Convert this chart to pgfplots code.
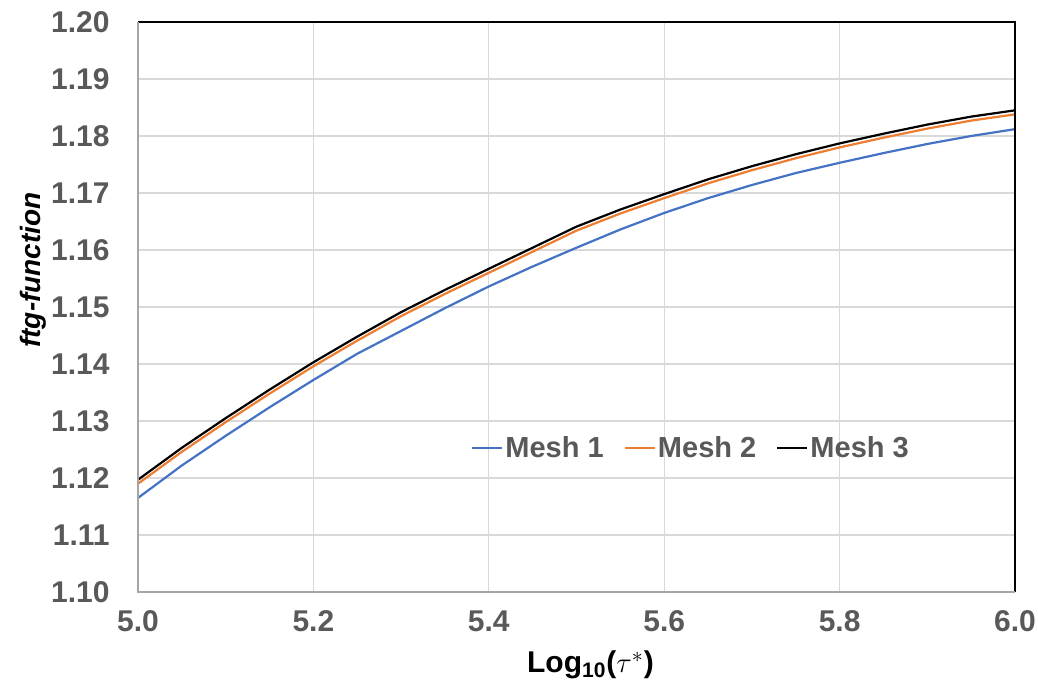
\documentclass[border=0pt]{standalone}
\usepackage{pgfplots}
\pgfplotsset{compat=1.18}
\usepackage{fontspec}
\setmainfont{Liberation Sans}

\definecolor{meshblue}{HTML}{4472C4}
\definecolor{meshorange}{HTML}{ED7D31}
\definecolor{ticktext}{HTML}{595959}
\definecolor{gridgrey}{HTML}{D9D9D9}
\definecolor{axisgrey}{HTML}{A6A6A6}

% ftg-function against log10(tau*) for three meshes
\pgfplotstableread{
x     m1      m2      m3
5.00  1.1165  1.1190  1.1197
5.05  1.1222  1.1246  1.1253
5.10  1.1274  1.1298  1.1305
5.15  1.1324  1.1348  1.1355
5.20  1.1372  1.1396  1.1403
5.25  1.1418  1.1441  1.1448
5.30  1.1458  1.1484  1.1491
5.35  1.1498  1.1523  1.1530
5.40  1.1536  1.1560  1.1567
5.45  1.1571  1.1597  1.1604
5.50  1.1604  1.1634  1.1641
5.55  1.1636  1.1664  1.1671
5.60  1.1665  1.1691  1.1698
5.65  1.1691  1.1717  1.1724
5.70  1.1714  1.1740  1.1747
5.75  1.1735  1.1761  1.1768
5.80  1.1753  1.1780  1.1787
5.85  1.1770  1.1797  1.1804
5.90  1.1786  1.1813  1.1820
5.95  1.1800  1.1827  1.1834
6.00  1.1812  1.1838  1.1845
}\ftgdata

\begin{document}
\begin{tikzpicture}
\useasboundingbox (-69pt,-47pt) rectangle (450pt,296pt);
\begin{axis}[
  at={(0,0)}, anchor=south west,
  scale only axis,
  width=438.5pt, height=285pt,
  xmin=5, xmax=6, ymin=1.10, ymax=1.20,
  xtick={5.0,5.2,5.4,5.6,5.8,6.0},
  ytick={1.10,1.11,1.12,1.13,1.14,1.15,1.16,1.17,1.18,1.19,1.20},
  major tick length=0pt,
  grid=major,
  major grid style={gridgrey, line width=0.65pt},
  axis line style={draw=none},
  clip=false,
  /pgf/number format/assume math mode=true,
  xticklabel style={/pgf/number format/.cd, fixed, fixed zerofill, precision=1, /tikz/.cd,
    font=\fontsize{15}{17}\selectfont\bfseries, text=ticktext,
    anchor=north, inner sep=0pt, yshift=-9pt},
  yticklabel style={/pgf/number format/.cd, fixed, fixed zerofill, precision=2, /tikz/.cd,
    font=\fontsize{15}{17}\selectfont\bfseries, text=ticktext,
    anchor=east, inner sep=0pt, xshift=-14pt},
  xlabel={Log\textsubscript{10}($\tau^{*}$)},
  xlabel style={at={(axis description cs:0.5,0)}, anchor=north, yshift=-26pt, xshift=7pt,
    font=\fontsize{15}{17}\selectfont\bfseries, text=black},
  ylabel={\itshape ftg-function},
  ylabel style={at={(axis description cs:0,0.565)}, anchor=center, yshift=52.5pt,
    font=\fontsize{14}{16}\selectfont\bfseries, text=black},
  legend columns=3,
  legend style={at={(axis description cs:0.6306,0.2526)}, anchor=center,
    draw=none, fill=none, font=\fontsize{14.5}{16}\selectfont\bfseries, text=ticktext,
    nodes={inner sep=1pt},
    /tikz/every even column/.append style={column sep=9pt}},
  legend image code/.code={\draw[#1] (0pt,0pt) -- (15pt,0pt);},
]
\addplot[meshblue, line width=1.1pt] table[x=x, y=m1] {\ftgdata};
\addlegendentry{Mesh 1}
\addplot[meshorange, line width=1.1pt] table[x=x, y=m2] {\ftgdata};
\addlegendentry{Mesh 2}
\addplot[black, line width=1.1pt] table[x=x, y=m3] {\ftgdata};
\addlegendentry{Mesh 3}
\draw[black, line width=0.6pt] (rel axis cs:0,1) -- (rel axis cs:1,1) -- (rel axis cs:1,0);
\draw[axisgrey, line width=0.8pt] (rel axis cs:0,1) -- (rel axis cs:0,0) -- (rel axis cs:1,0);
\end{axis}
\end{tikzpicture}
\end{document}
